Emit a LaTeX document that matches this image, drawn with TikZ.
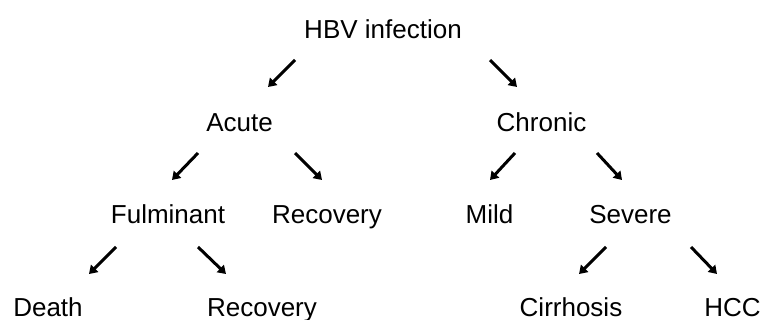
\documentclass[tikz,border=0pt]{standalone}
\usepackage{fontspec}
\setmainfont{Liberation Sans}
\usetikzlibrary{arrows.meta}
\tikzset{
 lbl/.style={anchor=base, inner sep=0pt, font=\fontsize{26}{30}\selectfont},
 arr/.style={line width=3pt, -{Triangle[length=8pt,width=10pt]}}
}
\begin{document}
\begin{tikzpicture}[x=1pt,y=-1pt]
 \useasboundingbox (0,0) rectangle (765,320);

 %labels of the tree
 \node[lbl] (hbv) at (383,39) {HBV infection};
 \node[lbl] (acute) at (239.5,131.5) {Acute};
 \node[lbl] (chronic) at (541.5,131.5) {Chronic};
 \node[lbl] (fulminant) at (168,223.5) {Fulminant};
 \node[lbl] (recovA) at (327,223.5) {Recovery};
 \node[lbl] (mild) at (489.5,223.5) {Mild};
 \node[lbl] (severe) at (630.5,223.5) {Severe};
 \node[lbl] (death) at (48,316) {Death};
 \node[lbl] (recovB) at (262,316) {Recovery};
 \node[lbl] (cirrhosis) at (571,316) {Cirrhosis};
 \node[lbl] (hcc) at (732.5,316) {HCC};

 %ends of the arrows
 \coordinate (A1) at (295,60);  \coordinate (A2) at (268,87);
 \coordinate (B1) at (490,60);  \coordinate (B2) at (517,87);
 \coordinate (C1) at (198,153); \coordinate (C2) at (172,180);
 \coordinate (D1) at (295,153); \coordinate (D2) at (322,180);
 \coordinate (E1) at (515,153); \coordinate (E2) at (490,180);
 \coordinate (F1) at (597,153); \coordinate (F2) at (622,180);
 \coordinate (G1) at (116,247); \coordinate (G2) at (89,274);
 \coordinate (H1) at (198,247); \coordinate (H2) at (226,274);
 \coordinate (I1) at (606,247); \coordinate (I2) at (579,274);
 \coordinate (J1) at (691,247); \coordinate (J2) at (717,274);

 %draw arrows
 \draw[arr] (A1) -- (A2);
 \draw[arr] (B1) -- (B2);
 \draw[arr] (C1) -- (C2);
 \draw[arr] (D1) -- (D2);
 \draw[arr] (E1) -- (E2);
 \draw[arr] (F1) -- (F2);
 \draw[arr] (G1) -- (G2);
 \draw[arr] (H1) -- (H2);
 \draw[arr] (I1) -- (I2);
 \draw[arr] (J1) -- (J2);
\end{tikzpicture}
\end{document}
